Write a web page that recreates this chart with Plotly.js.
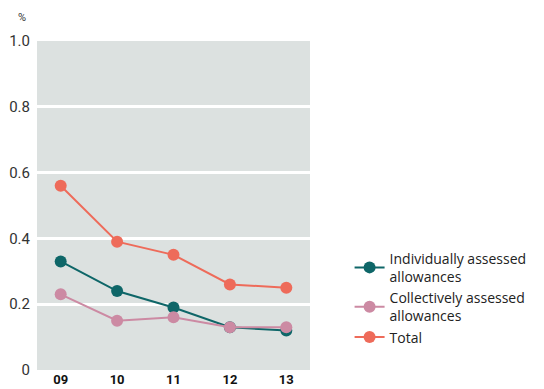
<!DOCTYPE html>
<html><head><meta charset="utf-8">
<script src="https://cdn.plot.ly/plotly-3.0.1.min.js"></script>
<style>html,body{margin:0;padding:0;background:#fff}</style>
</head><body><div id="chart" style="width:544px;height:389px"></div>
<script>
const years = ["09", "10", "11", "12", "13"];
const individual = [0.33, 0.24, 0.19, 0.13, 0.12];
const collective = [0.23, 0.15, 0.16, 0.13, 0.13];
const total = [0.56, 0.39, 0.35, 0.26, 0.25];
const yTicks = [0, 0.2, 0.4, 0.6, 0.8, 1.0];
const yTickText = ["0", "0.2", "0.4", "0.6", "0.8", "1.0"];

function tr(name, y, color) {
  return {x: years, y: y, name: name, type: "scatter", mode: "lines+markers",
    line: {color: color, width: 2}, marker: {color: color, size: 12}};
}
const data = [
  tr("Individually assessed<br>allowances", individual, "#0e6668"),
  tr("Collectively assessed<br>allowances", collective, "#cc8aa3"),
  tr("Total", total, "#ee6b5a")
];
const layout = {
  width: 544, height: 389,
  margin: {l: 37, r: 231, t: 41, b: 19},
  paper_bgcolor: "#fff", plot_bgcolor: "#dce1e0",
  font: {family: "Roboto, sans-serif", color: "#222", size: 14},
  xaxis: {type: "category", range: [-0.42, 4.42], showgrid: false, zeroline: false,
    ticks: "", tickfont: {size: 13, color: "#111", family: "Roboto, sans-serif", weight: "bold"},
    fixedrange: true},
  yaxis: {range: [0, 1], tickvals: yTicks, ticktext: yTickText, showgrid: true,
    gridcolor: "#ffffff", gridwidth: 3, zeroline: false, ticks: "",
    tickfont: {size: 15, color: "#333"}, ticklabelstandoff: 6},
  showlegend: true,
  legend: {x: 1.145, xanchor: "left", y: 0.387, yanchor: "top", xref: "paper", yref: "paper",
    font: {size: 14, color: "#222", family: "Open Sans, sans-serif"}, tracegroupgap: 14, itemwidth: 30, bgcolor: "rgba(0,0,0,0)"},
  annotations: [{text: "%", xref: "paper", yref: "paper", x: -0.055, y: 1.07,
    xanchor: "center", yanchor: "middle", showarrow: false, font: {size: 11, color: "#333"}}]
};
Plotly.newPlot("chart", data, layout, {displayModeBar: false, staticPlot: true});
</script></body></html>
